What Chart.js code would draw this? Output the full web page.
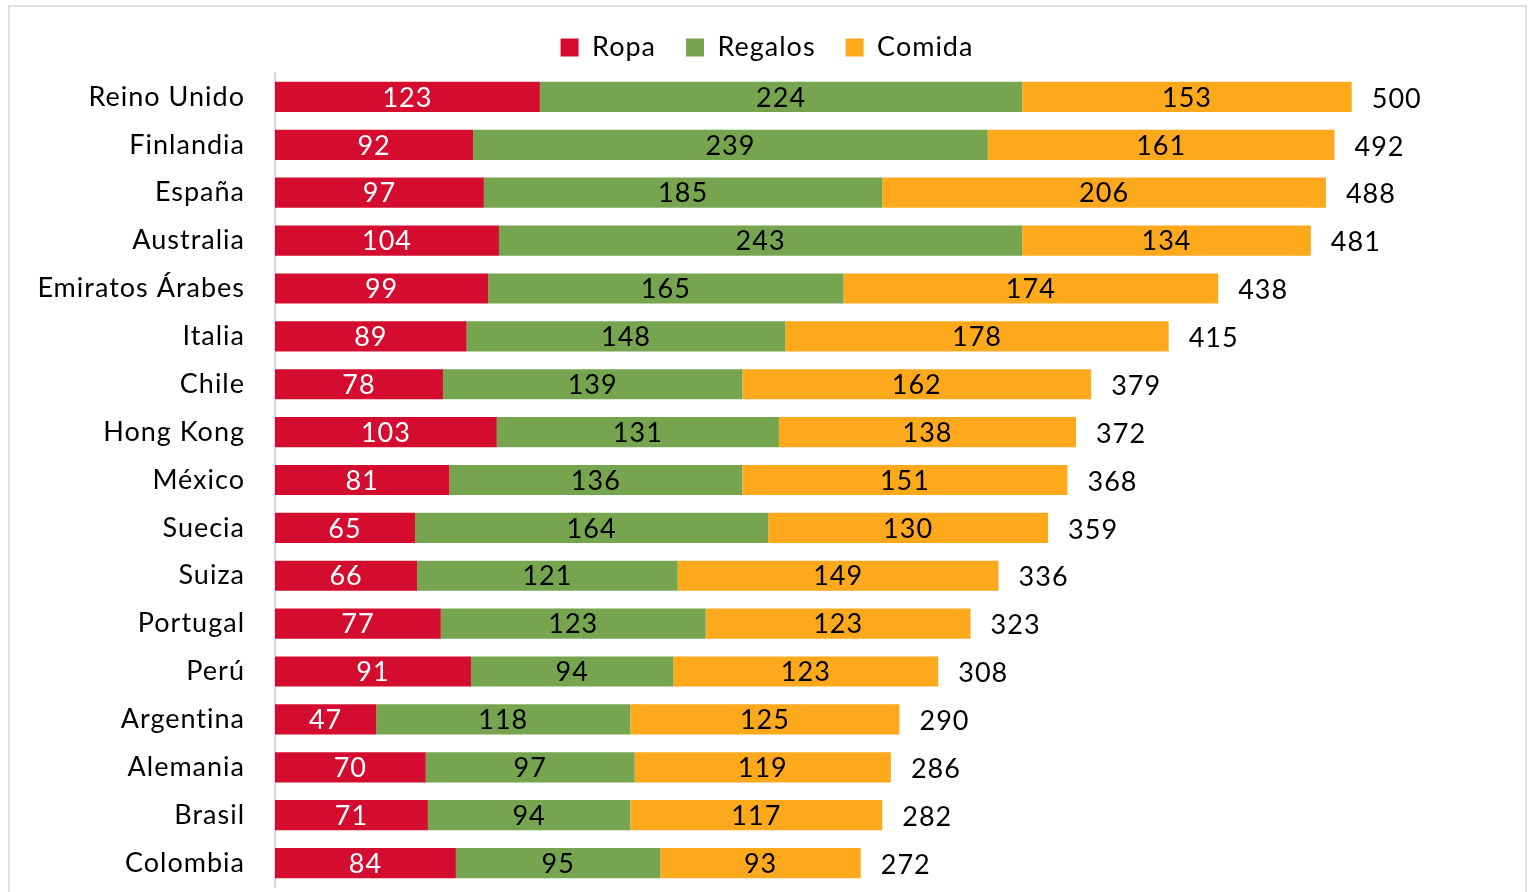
<!DOCTYPE html>
<html>
<head>
<meta charset="utf-8">
<script src="https://cdn.jsdelivr.net/npm/chart.js@4"></script>
<style>
  html, body { margin: 0; padding: 0; background: #fff; }
  #wrap { position: relative; width: 1530px; height: 892px; overflow: hidden; }
  #frame { position: absolute; left: 8px; top: 5px; width: 1519px; height: 900px; border: 2px solid #e4e0e0; box-sizing: border-box; pointer-events: none; }
  canvas { position: absolute; left: 0; top: 0; }
</style>
</head>
<body>
<div id="wrap">
  <canvas id="myChart" width="1530" height="892"></canvas>
  <div id="frame"></div>
</div>
<script>
const paises = ['Reino Unido', 'Finlandia', 'España', 'Australia', 'Emiratos Árabes', 'Italia', 'Chile', 'Hong Kong',
  'México', 'Suecia', 'Suiza', 'Portugal', 'Perú', 'Argentina', 'Alemania', 'Brasil', 'Colombia']
const ropa = [123, 92, 97, 104, 99, 89, 78, 103, 81, 65, 66, 77, 91, 47, 70, 71, 84]
const regalos = [224, 239, 185, 243, 165, 148, 139, 131, 136, 164, 121, 123, 94, 118, 97, 94, 95]
const comida = [153, 161, 206, 134, 174, 178, 162, 138, 151, 130, 149, 123, 123, 125, 119, 117, 93]
const totales = [500, 492, 488, 481, 438, 415, 379, 372, 368, 359, 336, 323, 308, 290, 286, 282, 272]

const FONT = 'Lato, "Open Sans", sans-serif'

// a bit of letter spacing, the original font is wide
const spacing = {
  id: 'spacing',
  beforeUpdate(chart) { chart.ctx.letterSpacing = '1px' },
  beforeDraw(chart) { chart.ctx.letterSpacing = '1px' }
}

// labels inside the bars + totals at the right
const barLabels = {
  id: 'barLabels',
  afterDatasetsDraw(chart) {
    const ctx = chart.ctx
    ctx.save()
    ctx.font = '27px ' + FONT
    ctx.textBaseline = 'middle'
    chart.data.datasets.forEach((ds, i) => {
      const meta = chart.getDatasetMeta(i)
      meta.data.forEach((bar, j) => {
        ctx.fillStyle = i === 0 ? '#ffffff' : '#000000'
        ctx.textAlign = 'center'
        ctx.fillText(ds.data[j], (bar.x + bar.base) / 2, bar.y + 1)
      })
    })
    const last = chart.getDatasetMeta(chart.data.datasets.length - 1)
    last.data.forEach((bar, j) => {
      ctx.fillStyle = '#000000'
      ctx.textAlign = 'left'
      ctx.fillText(totales[j], bar.x + 20, bar.y + 2)
    })
    ctx.restore()
  }
}

const legendHeight = {
  id: 'legendHeight',
  beforeInit(chart) {
    const fit = chart.legend.fit
    chart.legend.fit = function () {
      fit.bind(chart.legend)()
      this.height = 69
    }
  }
}

const ctx = document.getElementById('myChart')
const myChart = new Chart(ctx, {
  type: 'bar',
  data: {
    labels: paises,
    datasets: [
      { label: 'Ropa', data: ropa, backgroundColor: '#D40C30' },
      { label: 'Regalos', data: regalos, backgroundColor: '#77A44F' },
      { label: 'Comida', data: comida, backgroundColor: '#FEA81C' }
    ]
  },
  options: {
    indexAxis: 'y',
    responsive: false,
    animation: false,
    devicePixelRatio: 1,
    datasets: { bar: { categoryPercentage: 0.63, barPercentage: 1 } },
    layout: { padding: { top: 4, left: 10, right: 6, bottom: 5 } },
    scales: {
      x: { stacked: true, display: false, min: 0, max: 580 },
      y: {
        stacked: true,
        grid: { display: false, drawTicks: false },
        border: { display: true, color: '#d9d9d9', width: 2 },
        ticks: { color: '#000', padding: 30, font: { family: FONT, size: 27 } },
        afterFit(scale) {
          scale.width = 265
          scale.paddingTop = 0
          scale.paddingBottom = 0
        }
      }
    },
    plugins: {
      legend: {
        position: 'top',
        labels: {
          color: '#000',
          boxWidth: 18,
          boxHeight: 18,
          padding: 30,
          font: { family: FONT, size: 27 }
        }
      },
      tooltip: { enabled: false }
    }
  },
  plugins: [spacing, barLabels, legendHeight]
})
</script>
</body>
</html>
